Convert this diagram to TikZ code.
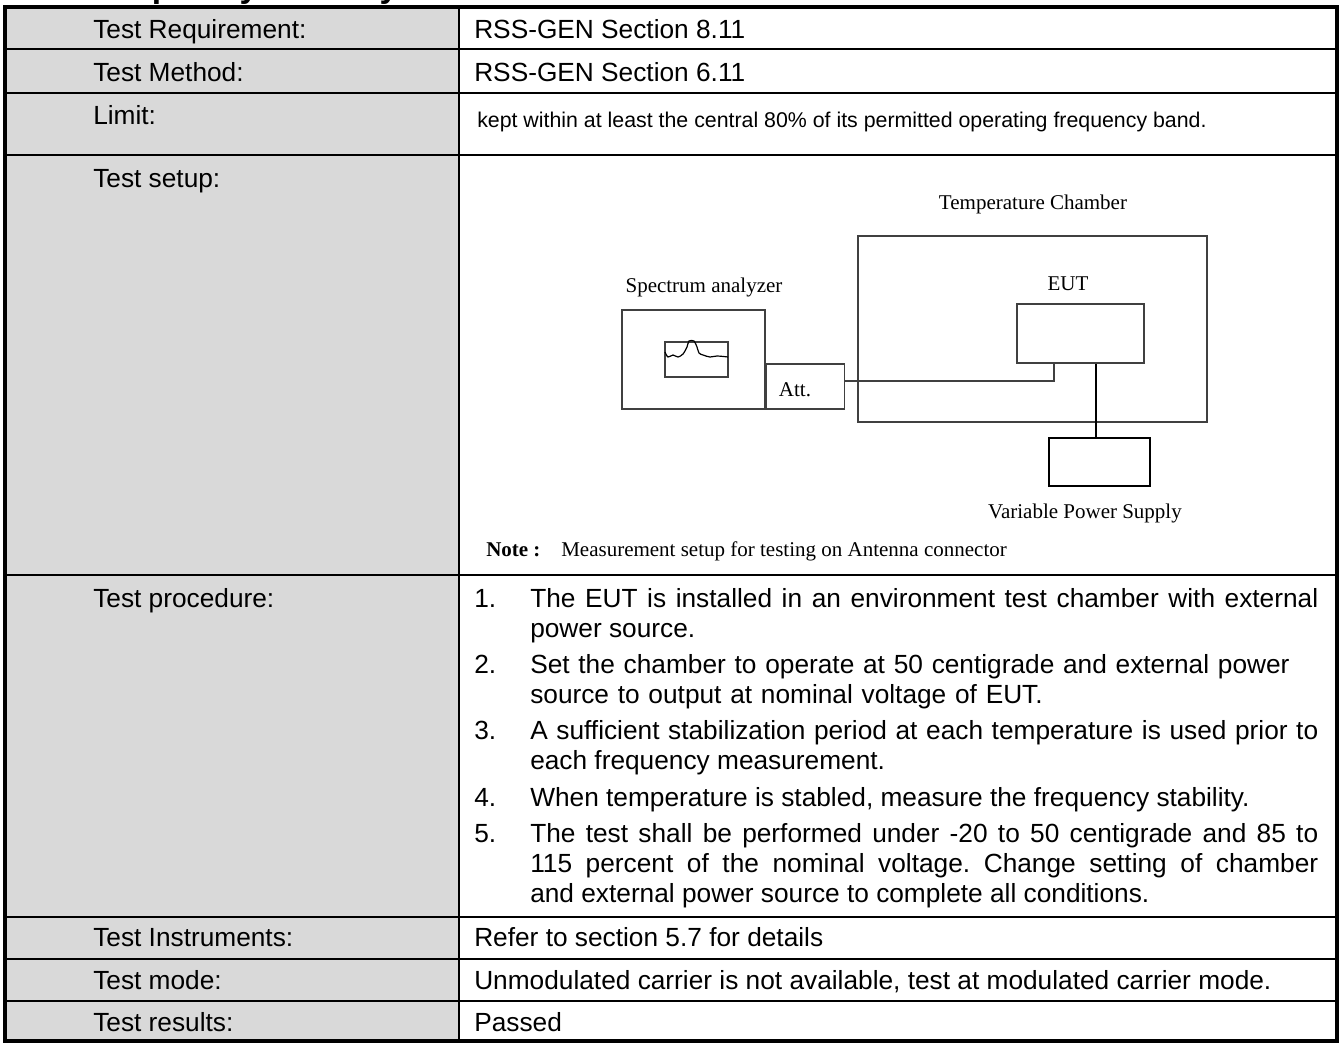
\documentclass[tikz,border=0pt]{standalone}
\usepackage{fontspec}
\setmainfont{Liberation Sans}
\newfontfamily\sketchfont{Liberation Serif}
\usepackage{xcolor}
\definecolor{cellgray}{HTML}{D9D9D9}
\definecolor{boxline}{HTML}{404040}
\tolerance=9999
\hbadness=10000
\frenchspacing

\begin{document}
\begin{tikzpicture}[x=0.75pt,y=-0.75pt,
  lbl/.style={anchor=base west,inner sep=0pt,font=\fontsize{19.7}{22.7}\selectfont},
  item/.style={anchor=base west,inner sep=0pt,text width=591pt,align=justify,font=\fontsize{19.7}{22.7}\selectfont},
  box/.style={draw=boxline,line width=1.1pt,inner sep=0pt},
  boxsize/.style 2 args={minimum width=#1*0.75pt,minimum height=#2*0.75pt},
  sketch/.style={anchor=base,inner sep=0pt,font=\sketchfont\fontsize{15.75}{18}\selectfont}]
\useasboundingbox (0,0) rectangle (1340,1043);
\node[anchor=base west,inner sep=0pt,font=\bfseries\fontsize{25.2}{30}\selectfont] (heading) at (88,-3) {Frequency Stability};
% table
\fill[cellgray] (5,7) rectangle (459,1041);
\foreach\y in {49,93,155,917,959,1001}{\draw[line width=1.5pt] (5,\y) -- (1337,\y);};
\draw[line width=2pt] (5,575) -- (1337,575);
\draw[line width=1.5pt] (459,7) -- (459,1041);
\draw[line width=3pt] (5,7) rectangle (1337,1041);
\foreach\txt/\y[count=\i] in {Test Requirement:/38,Test Method:/81,Limit:/124,Test setup:/187,Test procedure:/607,Test Instruments:/946,Test mode:/989,Test results:/1031}{\node[lbl] (label\i) at (93,\y) {\txt};};
\foreach\txt/\y[count=\i] in {RSS-GEN Section 8.11/38,RSS-GEN Section 6.11/81,Refer to section 5.7 for details/946,{Unmodulated carrier is not available, test at modulated carrier mode.}/989,Passed/1031}{\node[lbl] (value\i) at (474,\y) {\txt};};
\node[anchor=base west,inner sep=0pt,font=\fontsize{16}{19}\selectfont] (limitvalue) at (477,127.5) {kept within at least the central 80\% of its permitted operating frequency band.};
% setup
\node[box,boxsize={349}{186}] (chamber) at (1032.5,329) {};
\node[box,boxsize={127}{59}] (eut) at (1080.5,333.5) {};
\node[box,boxsize={143}{99}] (analyzer) at (693.5,359.5) {};
\node[box,boxsize={63}{35}] (screen) at (696.5,359.5) {};
\node[box,boxsize={78}{45},anchor=south west] (att) at (analyzer.south east) {};
\node[draw,line width=1.5pt,inner sep=0pt,boxsize={101}{48}] (power) at (1099.5,462) {};
\node[sketch] (chamberlabel) at (1033,209) {Temperature Chamber};
\node[sketch] (analyzerlabel) at (704,292) {Spectrum analyzer};
\node[sketch] (eutlabel) at (1068,290) {EUT};
\node[sketch] (attlabel) at (795,396) {Att.};
\node[sketch] (powerlabel) at (1085,518) {Variable Power Supply};
\node[sketch,anchor=base west] (notelabel) at (486,556) {\textbf{Note :}};
\node[sketch,anchor=base west] (notetext) at (561,556) {Measurement setup for testing on Antenna connector};
\draw[line width=0.9pt] plot[smooth] coordinates {(665,352) (668,357) (673,355) (678,357) (683,354) (687,347) (689,341) (694,341) (697,347) (699,353) (703,355) (710,357) (717,356) (728,357)};
\coordinate (cablebend) at (1054,381);
\draw[boxline,line width=1.1pt] (att.east |- cablebend) -- (cablebend) -- (cablebend |- eut.south);
\coordinate (feed) at (1096,0);
\draw[line width=1.5pt] (eut.south -| feed) -- (power.north -| feed);
% procedure
\foreach\n/\y in {1/607,2/673,3/739,4/806,5/842}{\node[lbl] (num\n) at (474,\y) {\n.};};
\node[item] (step1) at (530,607) {The EUT is installed in an environment test chamber with external\linebreak power source.};
\node[item,align=left] (step2) at (530,673) {Set the chamber to operate at 50 centigrade and external power\\source to output at nominal voltage of EUT.};
\node[item] (step3) at (530,739) {A sufficient stabilization period at each temperature is used prior to\linebreak each frequency measurement.};
\node[item] (step4) at (530,806) {When temperature is stabled, measure the frequency stability.};
\node[item] (step5) at (530,842) {The test shall be performed under -20 to 50 centigrade and 85 to\linebreak 115 percent of the nominal voltage. Change setting of chamber\linebreak and external power source to complete all conditions.};
\end{tikzpicture}
\end{document}
